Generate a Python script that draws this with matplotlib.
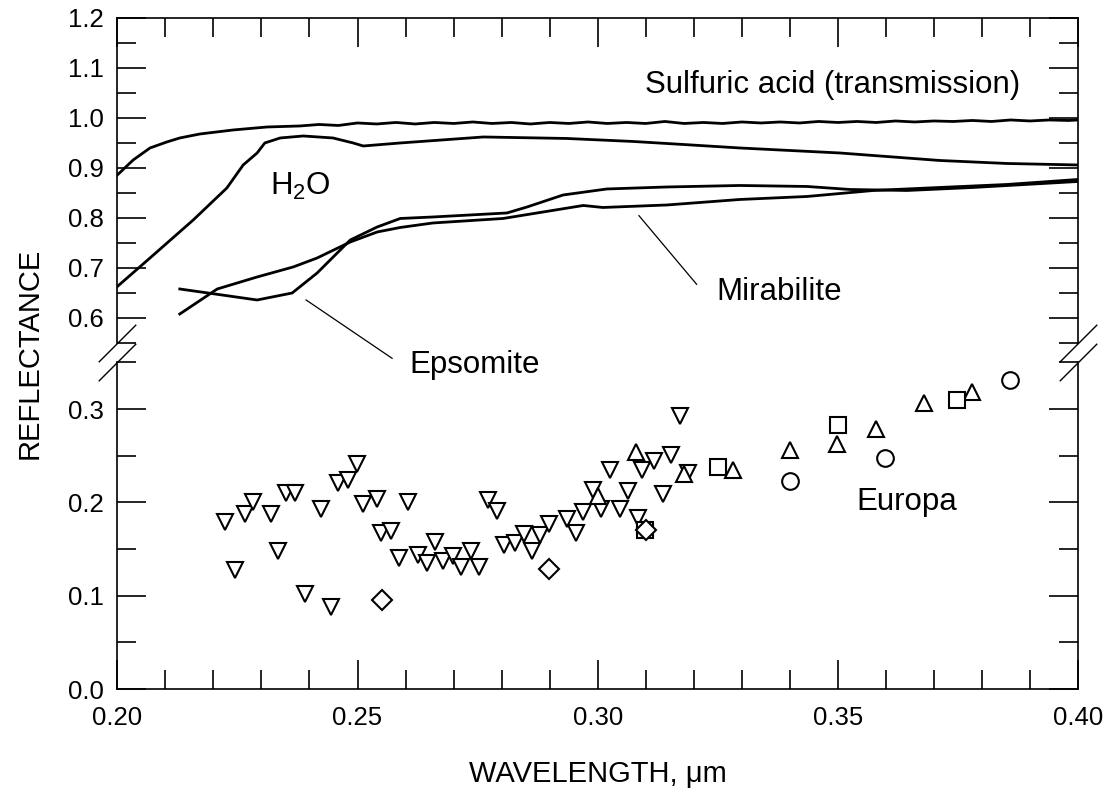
import numpy as np
import matplotlib

matplotlib.use("Agg")
import matplotlib.pyplot as plt  # noqa: E402
from matplotlib.ticker import FixedLocator, FormatStrFormatter  # noqa: E402

plt.rcParams["font.family"] = ["Liberation Sans", "DejaVu Sans"]
plt.rcParams["mathtext.fontset"] = "custom"
plt.rcParams["mathtext.rm"] = "Liberation Sans"

# --- lab spectra (wavelength um, reflectance / transmission) ---
acid_x = [0.200, 0.2033, 0.2068, 0.2103, 0.213, 0.2172, 0.2241, 0.2312, 0.238,
          0.242, 0.246, 0.250, 0.254, 0.258, 0.262, 0.266, 0.270, 0.274, 0.278,
          0.282, 0.286, 0.290, 0.294, 0.298, 0.302, 0.306, 0.310, 0.314, 0.318,
          0.322, 0.326, 0.330, 0.334, 0.338, 0.342, 0.346, 0.350, 0.354, 0.358,
          0.362, 0.366, 0.370, 0.374, 0.378, 0.382, 0.386, 0.390, 0.394, 0.398,
          0.400]
acid_y = [0.886, 0.916, 0.940, 0.952, 0.960, 0.968, 0.976, 0.982, 0.984,
          0.987, 0.985, 0.990, 0.988, 0.991, 0.988, 0.991, 0.989, 0.992, 0.989,
          0.991, 0.988, 0.991, 0.989, 0.992, 0.989, 0.991, 0.989, 0.993, 0.989,
          0.991, 0.989, 0.992, 0.990, 0.992, 0.990, 0.993, 0.991, 0.993, 0.991,
          0.994, 0.992, 0.994, 0.993, 0.995, 0.993, 0.996, 0.994, 0.996, 0.995,
          0.996]

h2o_x = [0.200, 0.2068, 0.2158, 0.2228, 0.2262, 0.2291, 0.2307, 0.2339, 0.2387,
         0.2449, 0.2491, 0.2512, 0.2589, 0.2762, 0.2936, 0.3074, 0.3178, 0.3296,
         0.3504, 0.3712, 0.3852, 0.400]
h2o_y = [0.663, 0.720, 0.796, 0.860, 0.906, 0.930, 0.950, 0.960, 0.964,
         0.960, 0.950, 0.944, 0.950, 0.962, 0.959, 0.953, 0.947, 0.940,
         0.930, 0.915, 0.909, 0.906]

epsomite_x = [0.213, 0.2291, 0.2364, 0.2416, 0.2485, 0.2541, 0.2589, 0.2657,
              0.2811, 0.2853, 0.2928, 0.3019, 0.3144, 0.3296, 0.3436, 0.3525,
              0.3644, 0.3781, 0.400]
epsomite_y = [0.658, 0.636, 0.650, 0.690, 0.756, 0.782, 0.799, 0.802,
              0.810, 0.822, 0.846, 0.858, 0.862, 0.865, 0.863, 0.857,
              0.855, 0.861, 0.873]

mirabilite_x = [0.213, 0.2208, 0.2291, 0.2366, 0.2416, 0.2485, 0.2541, 0.2589,
                0.2657, 0.2803, 0.2970, 0.3011, 0.3144, 0.3296, 0.3436, 0.3574,
                0.3712, 0.3852, 0.400]
mirabilite_y = [0.608, 0.658, 0.682, 0.702, 0.720, 0.752, 0.772, 0.781,
                0.790, 0.799, 0.825, 0.821, 0.826, 0.837, 0.843, 0.855,
                0.861, 0.867, 0.877]

# --- Europa points, by data set (marker) ---
tri_down_x = [0.2224, 0.2244, 0.2266, 0.2283, 0.2319, 0.2334, 0.2351, 0.2370,
              0.2391, 0.2423, 0.2444, 0.2460, 0.2481, 0.2498, 0.2512, 0.2540,
              0.2548, 0.2569, 0.2606, 0.2587, 0.2625, 0.2644, 0.2661, 0.2677,
              0.2698, 0.2716, 0.2736, 0.2753, 0.2772, 0.2790, 0.2804, 0.2828,
              0.2847, 0.2864, 0.2879, 0.2899, 0.2936, 0.2954, 0.2969, 0.2990,
              0.3007, 0.3026, 0.3047, 0.3064, 0.3083, 0.3093, 0.3117, 0.3135,
              0.3153, 0.3171, 0.3189]
tri_down_y = [0.179, 0.128, 0.188, 0.200, 0.188, 0.148, 0.210, 0.210,
              0.102, 0.193, 0.088, 0.221, 0.224, 0.241, 0.198, 0.204,
              0.167, 0.169, 0.200, 0.140, 0.144, 0.135, 0.158, 0.137,
              0.143, 0.131, 0.148, 0.131, 0.203, 0.191, 0.154, 0.156,
              0.166, 0.148, 0.165, 0.177, 0.182, 0.167, 0.190, 0.213,
              0.193, 0.235, 0.193, 0.212, 0.183, 0.235, 0.244, 0.209,
              0.251, 0.292, 0.231]
tri_up_x = [0.3000, 0.3079, 0.3180, 0.3281, 0.3400, 0.3499, 0.3579, 0.3679, 0.3780]
tri_up_y = [0.207, 0.254, 0.230, 0.235, 0.256, 0.263, 0.279, 0.306, 0.318]
square_x = [0.3099, 0.3250, 0.3500, 0.3749]
square_y = [0.170, 0.238, 0.283, 0.310]
diamond_x = [0.2550, 0.2899, 0.3100]
diamond_y = [0.095, 0.129, 0.170]
circle_x = [0.3400, 0.3598, 0.3858]
circle_y = [0.223, 0.247, 0.331]

# broken reflectance axis: 0-0.35 full scale, gap squeezed, 0.55-1.2 at ~half scale
LO_TOP, HI_BOT = 0.35, 0.55
GAP_K, HI_K = 0.1036, 0.5357
HI_START = LO_TOP + (HI_BOT - LO_TOP) * GAP_K


def fwd(y):
    y = np.asarray(y, dtype=float)
    return np.where(y <= LO_TOP, y,
                    np.where(y <= HI_BOT, LO_TOP + (y - LO_TOP) * GAP_K,
                             HI_START + (y - HI_BOT) * HI_K))


def inv(v):
    v = np.asarray(v, dtype=float)
    return np.where(v <= LO_TOP, v,
                    np.where(v <= HI_START, LO_TOP + (v - LO_TOP) / GAP_K,
                             HI_BOT + (v - HI_START) / HI_K))


fig = plt.figure(figsize=(11.07, 7.95), dpi=100)
ax = fig.add_axes([0.106, 0.1333, 0.8678, 0.8441])
ax.set_yscale("function", functions=(fwd, inv))

lw = 2.0
for xs, ys in [(acid_x, acid_y), (h2o_x, h2o_y),
               (epsomite_x, epsomite_y), (mirabilite_x, mirabilite_y)]:
    ax.plot(xs, ys, color="black", lw=lw, solid_joinstyle="round")

mk = dict(color="none", mec="black", mfc="white", mew=1.5, ls="none")
ax.plot(tri_down_x, tri_down_y, marker="v", ms=12, **mk)
ax.plot(tri_up_x, tri_up_y, marker="^", ms=12, **mk)
ax.plot(square_x, square_y, marker="s", ms=11, **mk)
ax.plot(diamond_x, diamond_y, marker="D", ms=10, **mk)
ax.plot(circle_x, circle_y, marker="o", ms=12, **mk)

# labels and leader lines
fs = 22.5
ax.text(0.349, 1.050, "Sulfuric acid (transmission)", fontsize=fs,
        ha="center", va="baseline")
ax.text(0.2381, 0.846, r"H$_{\mathrm{2}}$O", fontsize=fs, ha="center",
        va="baseline")
ax.text(0.3377, 0.636, "Mirabilite", fontsize=fs, ha="center", va="baseline")
ax.text(0.2743, 0.3386, "Epsomite", fontsize=fs, ha="center", va="baseline")
ax.text(0.3644, 0.1918, "Europa", fontsize=fs, ha="center", va="baseline")
ax.plot([0.3086, 0.3206], [0.8046, 0.6674], color="black", lw=0.9)
ax.plot([0.2393, 0.2572], [0.636, 0.3917], color="black", lw=0.9)

ax.set_xlim(0.20, 0.40)
ax.set_ylim(0.0, 1.2)
ax.xaxis.set_major_locator(FixedLocator([0.20, 0.25, 0.30, 0.35, 0.40]))
ax.xaxis.set_minor_locator(FixedLocator(np.arange(0.20, 0.4001, 0.01)))
ax.xaxis.set_major_formatter(FormatStrFormatter("%.2f"))
ax.yaxis.set_major_locator(FixedLocator([0.0, 0.1, 0.2, 0.3, 0.6, 0.7, 0.8,
                                         0.9, 1.0, 1.1, 1.2]))
ax.yaxis.set_minor_locator(FixedLocator([0.05, 0.15, 0.25, 0.35, 0.55, 0.65,
                                         0.75, 0.85, 0.95, 1.05, 1.15]))
ax.yaxis.set_major_formatter(FormatStrFormatter("%.1f"))

ax.tick_params(which="both", direction="in", top=True, right=True, width=1.2,
               labelsize=18.5, color="black")
ax.tick_params(which="major", length=21)
ax.tick_params(which="minor", length=14)
ax.tick_params(axis="y", pad=10)
ax.tick_params(axis="x", pad=12)

# spines with the break
for s in ("top", "bottom"):
    ax.spines[s].set_linewidth(1.2)
ax.spines["left"].set_visible(False)
ax.spines["right"].set_visible(False)
ytr = ax.get_yaxis_transform()
for xa in (0, 1):
    ax.plot([xa, xa], [0.0, LO_TOP], color="black", lw=1.2, transform=ytr,
            clip_on=False, solid_capstyle="projecting")
    ax.plot([xa, xa], [HI_BOT, 1.2], color="black", lw=1.2, transform=ytr,
            clip_on=False, solid_capstyle="projecting")
    ax.plot([xa, xa], [LO_TOP, HI_BOT], transform=ytr, ls="none",
            marker=[(-1, -1), (1, 1)], ms=27, mew=1.0, mec="black",
            clip_on=False)

ax.set_xlabel("WAVELENGTH, μm", fontsize=21)
ax.set_ylabel("REFLECTANCE", fontsize=21)
ax.xaxis.set_label_coords(0.5, -0.106)
ax.yaxis.set_label_coords(-0.077, 0.5)

fig.savefig("out.png", dpi=100)
